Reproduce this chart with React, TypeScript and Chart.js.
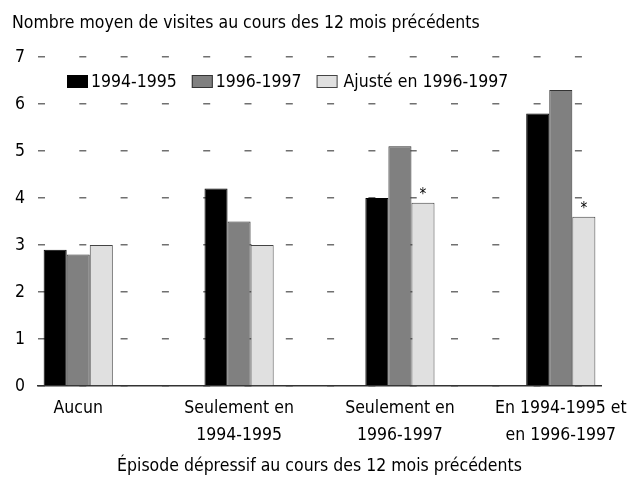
import React, { useEffect, useRef } from 'react';
import { Chart, registerables } from 'chart.js';

Chart.register(...registerables);

// ---- data ----
const categories: string[][] = [
  ['Aucun'],
  ['Seulement en', '1994-1995'],
  ['Seulement en', '1996-1997'],
  ['En 1994-1995 et', 'en 1996-1997'],
];
const seriesNames = ['1994-1995', '1996-1997', 'Ajusté en 1996-1997'];
const values9495 = [2.9, 4.2, 4.0, 5.8];
const values9697 = [2.8, 3.5, 5.1, 6.3];
const valuesAdjusted = [3.0, 3.0, 3.9, 3.6];
const adjustedFlags = ['', '', '*', '*'];
const yTickValues = [0, 1, 2, 3, 4, 5, 6, 7];
const chartTitle = 'Nombre moyen de visites au cours des 12 mois précédents';
const xAxisTitle = 'Épisode dépressif au cours des 12 mois précédents';

const FONT = "'DejaVu Sans Condensed', 'Liberation Sans Narrow', sans-serif";
const FS = 17.5;
const fillColors = ['#000000', '#808080', '#e0e0e0'];
const strokeColors = ['#000000', '#333333', '#444444'];

const legendPlugin = {
  id: 'insideLegend',
  afterDraw(chart: any) {
    const { ctx, chartArea } = chart;
    ctx.save();
    ctx.font = `${FS}px ${FONT}`;
    ctx.textBaseline = 'middle';
    ctx.textAlign = 'left';
    let x = chartArea.left + 29;
    const cy = chartArea.top + 24.5;
    const bw = 21;
    const bh = 13;
    seriesNames.forEach((name, i) => {
      ctx.fillStyle = fillColors[i];
      ctx.fillRect(x, cy - bh / 2, bw, bh);
      ctx.strokeStyle = strokeColors[i];
      ctx.lineWidth = 1;
      ctx.strokeRect(x + 0.5, cy - bh / 2 + 0.5, bw - 1, bh - 1);
      x += bw + (i === 2 ? 6 : 3);
      ctx.fillStyle = '#000';
      ctx.fillText(name, x, cy + 1);
      x += ctx.measureText(name).width + 15;
    });
    ctx.restore();
  },
};

const starPlugin = {
  id: 'stars',
  afterDatasetsDraw(chart: any) {
    const { ctx } = chart;
    const meta = chart.getDatasetMeta(2);
    ctx.save();
    ctx.font = `15px ${FONT}`;
    ctx.textAlign = 'center';
    ctx.textBaseline = 'alphabetic';
    ctx.fillStyle = '#000';
    adjustedFlags.forEach((f, i) => {
      if (!f) return;
      const el = meta.data[i];
      if (!el) return;
      ctx.fillText(f, el.x, el.y - 4);
    });
    ctx.restore();
  },
};

export default function App() {
  const ref = useRef<HTMLCanvasElement | null>(null);

  useEffect(() => {
    if (!ref.current) return;
    const mk = (vals: number[]) => vals.map((v, i) => ({ x: i, y: v }));
    const chart = new Chart(ref.current, {
      type: 'bar',
      data: {
        datasets: [values9495, values9697, valuesAdjusted].map((vals, i) => ({
          label: seriesNames[i],
          data: mk(vals),
          backgroundColor: fillColors[i],
          borderColor: strokeColors[i],
          borderWidth: 1,
          barPercentage: 1,
          categoryPercentage: 0.43,
        })),
      },
      options: {
        animation: false,
        responsive: false,
        maintainAspectRatio: false,
        layout: { padding: { left: 12, right: 27, top: 0, bottom: 0 } },
        plugins: {
          legend: { display: false },
          tooltip: { enabled: false },
          title: {
            display: true,
            text: chartTitle,
            align: 'start',
            color: '#000',
            font: { family: FONT, size: FS, weight: 'normal', lineHeight: 1.2 },
            padding: { top: 12.5, bottom: 23.5 },
          },
        },
        scales: {
          x: {
            type: 'linear',
            offset: false,
            min: -0.25,
            max: 3.25,
            afterFit: (s: any) => {
              s.height = 94;
              s.paddingLeft = 0;
              s.paddingRight = 0;
            },
            grid: { display: false, drawTicks: false },
            border: { display: true, color: '#333', width: 1.5 },
            ticks: {
              stepSize: 1,
              includeBounds: false,
              autoSkip: false,
              maxRotation: 0,
              padding: 9,
              color: '#000',
              font: { family: FONT, size: FS, lineHeight: 1.54 },
              callback: (v: any) => (Number.isInteger(v) && categories[v] ? categories[v] : ''),
            },
            title: {
              display: true,
              text: xAxisTitle,
              color: '#000',
              font: { family: FONT, size: FS, lineHeight: 1.2 },
              padding: { top: 4, bottom: 3 },
            },
          },
          y: {
            type: 'linear',
            min: yTickValues[0],
            max: yTickValues[yTickValues.length - 1],
            afterFit: (s: any) => {
              s.width = 26;
            },
            grid: { color: '#707070', lineWidth: 1.5, drawTicks: false },
            border: { display: false, dash: [7, 34.3] },
            ticks: {
              stepSize: 1,
              padding: 13,
              color: '#000',
              font: { family: FONT, size: FS },
              callback: (v: any) => (yTickValues.includes(v) ? String(v) : ''),
            },
          },
        },
      },
      plugins: [legendPlugin, starPlugin],
    } as any);
    return () => chart.destroy();
  }, []);

  return (
    <div style={{ position: 'absolute', left: 0, top: 0, width: 628, height: 480, background: '#fff' }}>
      <canvas ref={ref} width={628} height={480} style={{ display: 'block' }} />
    </div>
  );
}
